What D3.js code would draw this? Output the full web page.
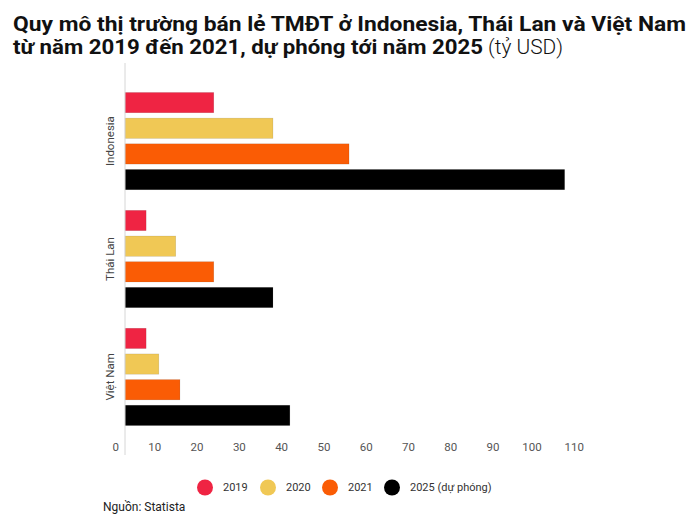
<!DOCTYPE html>
<html>
<head>
<meta charset="utf-8">
<script src="https://cdn.jsdelivr.net/npm/d3@7"></script>
<style>
  body { margin: 0; background: #fff; }
  svg { display: block; }
</style>
</head>
<body>
<svg id="chart" width="700" height="525"></svg>
<script>
const countries = ["Indonesia", "Thái Lan", "Việt Nam"];
const seriesNames = ["2019", "2020", "2021", "2025 (dự phóng)"];
const v2019 = [21, 5, 5];
const v2020 = [35, 12, 8];
const v2021 = [53, 21, 13];
const v2025 = [104, 35, 39];
const colors = ["#EF2443", "#F0C855", "#FA5C05", "#000000"];
const xTicks = [0, 10, 20, 30, 40, 50, 60, 70, 80, 90, 100, 110];

const seriesValues = [v2019, v2020, v2021, v2025];
const svg = d3.select("#chart");
const font = "Roboto, 'Noto Sans', sans-serif";

// Title
svg.append("text").attr("x", 13).attr("y", 31)
  .attr("font-family", font).attr("fill", "#111")
  .attr("font-size", 20).attr("font-weight", 700)
  .attr("textLength", 673).attr("lengthAdjust", "spacingAndGlyphs")
  .text("Quy mô thị trường bán lẻ TMĐT ở Indonesia, Thái Lan và Việt Nam");
const t2 = svg.append("text").attr("y", 54).attr("font-family", font).attr("fill", "#111").attr("font-size", 20);
t2.append("tspan").attr("x", 13).attr("font-weight", 700)
  .attr("textLength", 470).attr("lengthAdjust", "spacingAndGlyphs")
  .text("từ năm 2019 đến 2021, dự phóng tới năm 2025");
t2.append("tspan").attr("x", 488).attr("font-weight", 300)
  .attr("textLength", 75).attr("lengthAdjust", "spacingAndGlyphs")
  .text("(tỷ USD)");

const x = d3.scaleLinear().domain([0, 110]).range([125, 590]);
const y0 = d3.scaleBand().domain(countries).range([63, 455]).paddingInner(0.175).paddingOuter(0.25);
const y1 = d3.scaleBand().domain(seriesNames).range([0, y0.bandwidth()]).paddingInner(0.21).paddingOuter(0);

// Bars
const groups = svg.append("g").selectAll("g").data(countries).join("g")
  .attr("transform", d => `translate(0,${y0(d)})`);
groups.selectAll("rect")
  .data((c, ci) => seriesNames.map((s, si) => ({ s, si, v: seriesValues[si][ci] })))
  .join("rect")
  .attr("x", x(0))
  .attr("y", d => y1(d.s))
  .attr("width", d => x(d.v) - x(0))
  .attr("height", y1.bandwidth())
  .attr("fill", d => colors[d.si])
  .attr("stroke", "rgba(0,0,0,0.15)")
  .attr("stroke-width", 0.6);

// Vertical axis line
svg.append("line").attr("x1", x(0)).attr("x2", x(0)).attr("y1", 63).attr("y2", 455)
  .attr("stroke", "#d6d6d6").attr("stroke-width", 1);

// Category labels
svg.append("g").selectAll("text").data(countries).join("text")
  .attr("transform", d => `translate(114,${y0(d) + y0.bandwidth() / 2}) rotate(-90)`)
  .attr("text-anchor", "middle")
  .attr("font-family", font).attr("font-size", 11.5).attr("fill", "#444")
  .text(d => d);

// X axis tick labels
const xAxis = d3.axisBottom(x).tickValues(xTicks).tickSize(0).tickPadding(0);
const gx = svg.append("g").attr("transform", "translate(0,447)").call(xAxis);
gx.select(".domain").remove();
gx.selectAll("text")
  .attr("text-anchor", "end")
  .attr("dx", -6.5)
  .attr("dy", "0.35em")
  .attr("y", 0)
  .attr("font-family", font).attr("font-size", 11.5).attr("fill", "#555");

// Legend
const legendX = [205, 268, 330, 392];
const lg = svg.append("g").selectAll("g").data(seriesNames).join("g")
  .attr("transform", (d, i) => `translate(${legendX[i]},487.5)`);
lg.append("circle").attr("r", 8).attr("fill", (d, i) => colors[i]);
lg.append("text").attr("x", 18).attr("dy", "0.35em")
  .attr("font-family", font).attr("font-size", 11).attr("fill", "#333")
  .text(d => d);

// Source
svg.append("text").attr("x", 103).attr("y", 511)
  .attr("font-family", font).attr("font-size", 12).attr("fill", "#222")
  .text("Nguồn: Statista");
</script>
</body>
</html>
